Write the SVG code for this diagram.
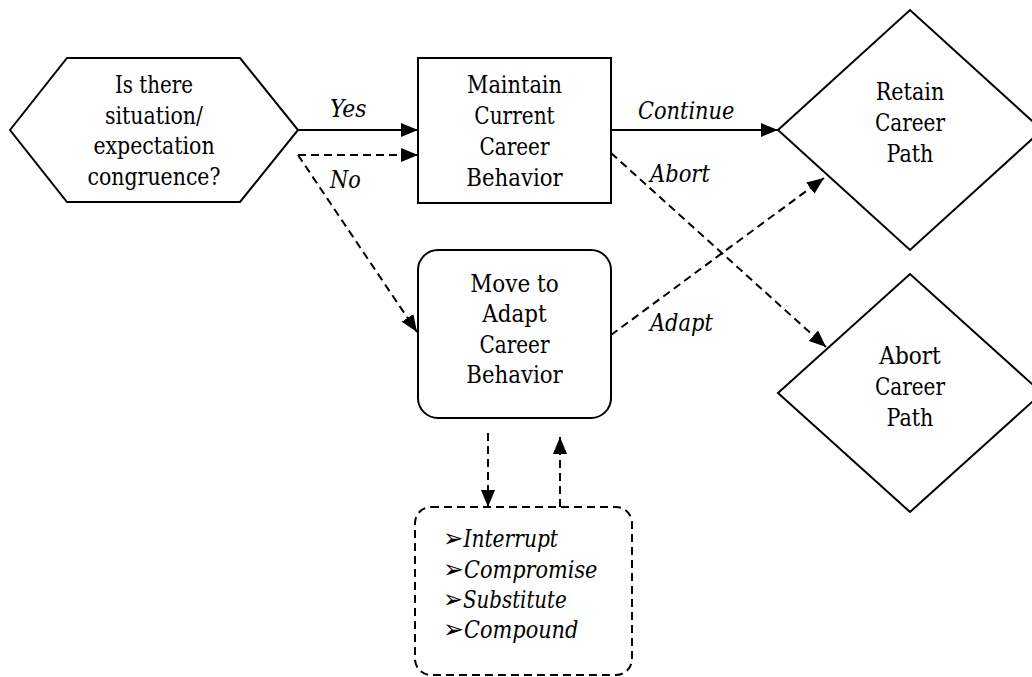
<svg xmlns="http://www.w3.org/2000/svg" width="1032" height="677" viewBox="0 0 1032 677">
<defs>
<style>
.shape{fill:#fff;stroke:#000;stroke-width:2}
.dash{fill:none;stroke:#000;stroke-width:2;stroke-dasharray:8 5}
.line{fill:none;stroke:#000;stroke-width:2}
text{font-family:"DejaVu Serif Condensed","DejaVu Serif",serif;font-stretch:condensed;fill:#000}
.t{font-size:24px;text-anchor:middle}
.lbl{font-size:24px;font-style:italic}
.bul{font-family:"DejaVu Sans",sans-serif;font-style:normal;font-stretch:normal;font-size:26px}
</style>
<marker id="ah" viewBox="0 0 17 14" refX="17" refY="7" markerWidth="17" markerHeight="14" markerUnits="userSpaceOnUse" orient="auto">
<path d="M0,0 L17,7 L0,14 Z" fill="#000"/>
</marker>
</defs>
<rect width="1032" height="677" fill="#fff"/>

<g id="connectors">
<line class="line" x1="298" y1="130" x2="418" y2="130" marker-end="url(#ah)"/>
<line class="dash" x1="298" y1="155" x2="418" y2="155" marker-end="url(#ah)"/>
<line class="dash" x1="298" y1="155" x2="417" y2="332" marker-end="url(#ah)"/>
<line class="line" x1="611" y1="130" x2="778" y2="130" marker-end="url(#ah)"/>
<line class="dash" x1="611" y1="153" x2="826" y2="347" marker-end="url(#ah)"/>
<line class="dash" x1="611" y1="335" x2="824" y2="178" marker-end="url(#ah)"/>
<line class="dash" x1="488" y1="433" x2="488" y2="507" marker-end="url(#ah)"/>
<line class="dash" x1="560" y1="507" x2="560" y2="437" marker-end="url(#ah)"/>
<text class="lbl" x="330" y="117" textLength="36.5" lengthAdjust="spacingAndGlyphs">Yes</text>
<text class="lbl" x="330" y="188" textLength="30.7" lengthAdjust="spacingAndGlyphs">No</text>
<text class="lbl" x="638" y="119" textLength="96.4" lengthAdjust="spacingAndGlyphs">Continue</text>
<text class="lbl" x="650" y="182" textLength="59.9" lengthAdjust="spacingAndGlyphs">Abort</text>
<text class="lbl" x="650" y="331" textLength="62.8" lengthAdjust="spacingAndGlyphs">Adapt</text>
</g>

<g id="question">
<polygon class="shape" points="10,130 67,58 240,58 298,130 240,202 67,202"/>
<text class="t" x="154" y="93" textLength="78.1" lengthAdjust="spacingAndGlyphs">Is there</text>
<text class="t" x="154" y="124" textLength="97.9" lengthAdjust="spacingAndGlyphs">situation/</text>
<text class="t" x="154" y="154" textLength="121.2" lengthAdjust="spacingAndGlyphs">expectation</text>
<text class="t" x="154" y="185" textLength="132.9" lengthAdjust="spacingAndGlyphs">congruence?</text>
</g>

<g id="maintain">
<rect class="shape" x="418" y="58" width="193" height="145"/>
<text class="t" x="514.5" y="93" textLength="95" lengthAdjust="spacingAndGlyphs">Maintain</text>
<text class="t" x="514.5" y="124" textLength="80.3" lengthAdjust="spacingAndGlyphs">Current</text>
<text class="t" x="514.5" y="155" textLength="70.1" lengthAdjust="spacingAndGlyphs">Career</text>
<text class="t" x="514.5" y="186" textLength="96.4" lengthAdjust="spacingAndGlyphs">Behavior</text>
</g>

<g id="adapt">
<rect class="shape" x="418" y="250" width="193" height="168" rx="20" ry="20"/>
<text class="t" x="514.5" y="292" textLength="88.4" lengthAdjust="spacingAndGlyphs">Move to</text>
<text class="t" x="514.5" y="322" textLength="64.3" lengthAdjust="spacingAndGlyphs">Adapt</text>
<text class="t" x="514.5" y="353" textLength="70.1" lengthAdjust="spacingAndGlyphs">Career</text>
<text class="t" x="514.5" y="383" textLength="96.4" lengthAdjust="spacingAndGlyphs">Behavior</text>
</g>

<g id="retain">
<polygon class="shape" points="778,130 910,10 1042,130 910,250"/>
<text class="t" x="910" y="100" textLength="68.7" lengthAdjust="spacingAndGlyphs">Retain</text>
<text class="t" x="910" y="131" textLength="70.1" lengthAdjust="spacingAndGlyphs">Career</text>
<text class="t" x="910" y="162" textLength="46.8" lengthAdjust="spacingAndGlyphs">Path</text>
</g>

<g id="abort">
<polygon class="shape" points="778,393 910,274 1042,393 910,512"/>
<text class="t" x="910" y="364" textLength="61.4" lengthAdjust="spacingAndGlyphs">Abort</text>
<text class="t" x="910" y="395" textLength="70.1" lengthAdjust="spacingAndGlyphs">Career</text>
<text class="t" x="910" y="426" textLength="46.8" lengthAdjust="spacingAndGlyphs">Path</text>
</g>

<g id="options">
<rect class="dash" x="415" y="507" width="217" height="168" rx="16" ry="16"/>
<text class="lbl" x="443" y="547" textLength="115" lengthAdjust="spacingAndGlyphs"><tspan class="bul">➢</tspan>Interrupt</text>
<text class="lbl" x="443" y="578" textLength="154.4" lengthAdjust="spacingAndGlyphs"><tspan class="bul">➢</tspan>Compromise</text>
<text class="lbl" x="443" y="608" textLength="123.8" lengthAdjust="spacingAndGlyphs"><tspan class="bul">➢</tspan>Substitute</text>
<text class="lbl" x="443" y="638" textLength="135.4" lengthAdjust="spacingAndGlyphs"><tspan class="bul">➢</tspan>Compound</text>
</g>
</svg>
